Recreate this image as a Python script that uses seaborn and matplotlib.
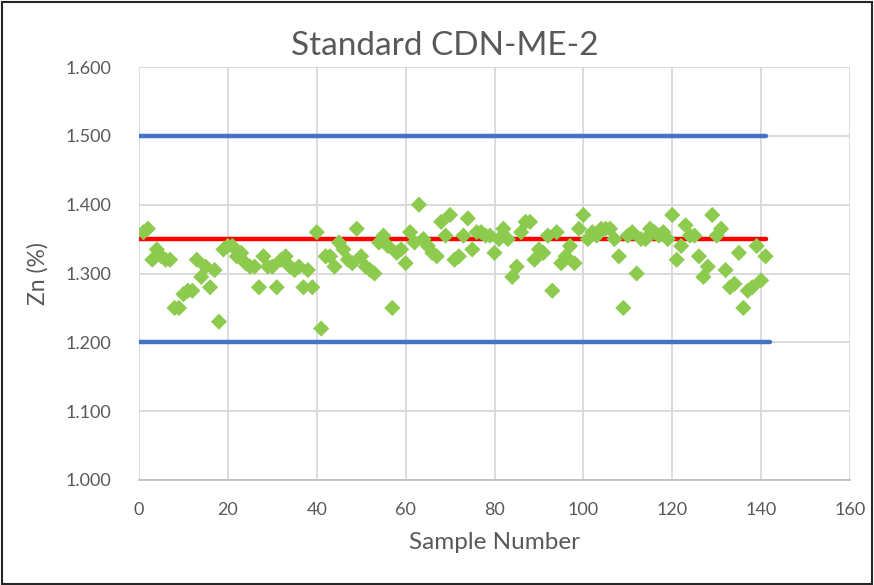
import matplotlib
matplotlib.use("Agg")
import matplotlib.pyplot as plt
import seaborn as sns
import numpy as np
import pandas as pd
from matplotlib.patches import Rectangle

zn_values = [
    1.360, 1.365, 1.320, 1.335, 1.325, 1.320, 1.320, 1.250, 1.250, 1.270,
    1.275, 1.275, 1.320, 1.295, 1.310, 1.280, 1.305, 1.230, 1.335, 1.340,
    1.340, 1.325, 1.330, 1.315, 1.310, 1.310, 1.280, 1.325, 1.310, 1.310,
    1.280, 1.320, 1.325, 1.310, 1.305, 1.310, 1.280, 1.305, 1.280, 1.360,
    1.220, 1.325, 1.325, 1.310, 1.345, 1.335, 1.320, 1.315, 1.365, 1.325,
    1.310, 1.305, 1.300, 1.345, 1.355, 1.340, 1.250, 1.330, 1.335, 1.315,
    1.360, 1.345, 1.400, 1.350, 1.340, 1.330, 1.325, 1.375, 1.355, 1.385,
    1.320, 1.325, 1.355, 1.380, 1.335, 1.360, 1.360, 1.355, 1.355, 1.330,
    1.350, 1.365, 1.350, 1.295, 1.310, 1.360, 1.375, 1.375, 1.320, 1.335,
    1.330, 1.355, 1.275, 1.360, 1.315, 1.325, 1.340, 1.315, 1.365, 1.385,
    1.350, 1.360, 1.355, 1.365, 1.365, 1.365, 1.350, 1.325, 1.250, 1.355,
    1.360, 1.300, 1.350, 1.350, 1.365, 1.360, 1.355, 1.360, 1.350, 1.385,
    1.320, 1.340, 1.370, 1.355, 1.355, 1.325, 1.295, 1.310, 1.385, 1.355,
    1.365, 1.305, 1.280, 1.285, 1.330, 1.250, 1.275, 1.280, 1.340, 1.290,
    1.325,
]
sample_numbers = list(range(1, len(zn_values) + 1))

upper_x = [0, 141]
upper_y = [1.500, 1.500]
target_x = [0, 141]
target_y = [1.350, 1.350]
lower_x = [0, 142]
lower_y = [1.200, 1.200]

x_ticks = [0, 20, 40, 60, 80, 100, 120, 140, 160]
y_ticks = [1.000, 1.100, 1.200, 1.300, 1.400, 1.500, 1.600]
y_tick_labels = ["1.000", "1.100", "1.200", "1.300", "1.400", "1.500", "1.600"]

sns.set_theme(style="white")
plt.rcParams['font.family'] = ['Lato', 'DejaVu Sans']

text_color = "#595959"
fig = plt.figure(figsize=(8.74, 5.85), dpi=100)
ax = fig.add_axes([139/874, 1 - 480/585, (850-139)/874, (480-67)/585])

df_pts = pd.DataFrame({"Sample": sample_numbers, "Zn": zn_values})
sns.lineplot(x=upper_x, y=upper_y, ax=ax, color="#4472C4", linewidth=3.2, zorder=2)
sns.lineplot(x=lower_x, y=lower_y, ax=ax, color="#4472C4", linewidth=3.2, zorder=2)
sns.lineplot(x=target_x, y=target_y, ax=ax, color="#FF0000", linewidth=3.2, zorder=2)
for ln in ax.lines:
    ln.set_solid_capstyle("round")
sns.scatterplot(data=df_pts, x="Sample", y="Zn", ax=ax, marker="D", s=68,
                color="#8DCB4E", edgecolor="none", linewidth=0, zorder=3)

ax.set_xlim(0, 160)
ax.set_ylim(1.0, 1.6)
ax.set_xticks(x_ticks)
ax.set_yticks(y_ticks)
ax.set_yticklabels(y_tick_labels)
ax.grid(True, color="#D9D9D9", linewidth=1.3)
ax.set_axisbelow(True)
for s in ["top", "right", "left"]:
    ax.spines[s].set_visible(False)
ax.spines["bottom"].set_color("#BFBFBF")
ax.spines["bottom"].set_linewidth(1.3)
ax.tick_params(axis="both", length=0, labelsize=13, colors=text_color)
ax.tick_params(axis="y", pad=20)
ax.tick_params(axis="x", pad=16)
ax.set_xlabel("Sample Number", fontsize=17.5, color=text_color, labelpad=10)
ax.set_ylabel("Zn (%)", fontsize=16.5, color=text_color, labelpad=12)
fig.text(445/874, 1 - 46/585, "Standard CDN-ME-2", ha="center", va="center",
         fontsize=24, color=text_color)

fig.patches.append(Rectangle((0.002, 0.002), 0.996, 0.994, transform=fig.transFigure,
                             fill=False, edgecolor="#262626", linewidth=1.5))

fig.savefig("out.png", dpi=100)
